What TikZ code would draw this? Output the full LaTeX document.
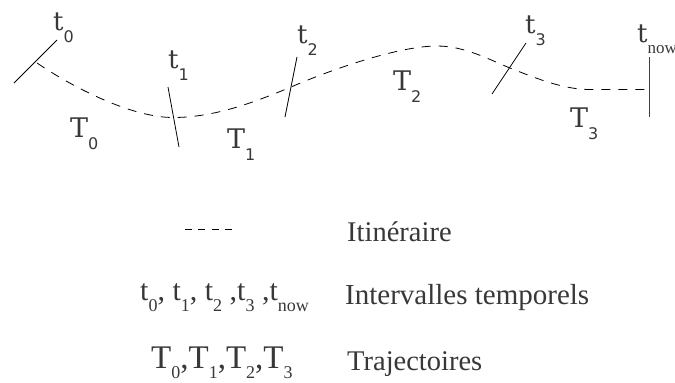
\documentclass[tikz,border=0pt]{standalone}
\usepackage{fontspec}
\setmainfont{Liberation Serif}
\newfontfamily\labfont{DejaVu Serif}
\newfontfamily\subfont{DejaVu Sans}
\newcommand\toplab[3]{{\fontsize{#1}{#1}\labfont #2}\raisebox{-12.5pt}{\fontsize{16}{16}\subfont #3}}
\newcommand\lsub[2]{\raisebox{-#1}{\fontsize{18}{18}\selectfont #2}}
\begin{document}
\begin{tikzpicture}[x=1pt,y=-1pt,
  tickline/.style={line width=0.8pt},
  route/.style={line width=0.8pt, dash pattern=on 9pt off 8pt},
  txt/.style={inner sep=0pt, anchor=base west, text=black!78}]
\useasboundingbox (0,0) rectangle (675,383);
% tick marks
\coordinate (a0) at (14,83);  \coordinate (b0) at (57,40);
\coordinate (a1) at (168,87); \coordinate (b1) at (179,147);
\coordinate (a2) at (297,57); \coordinate (b2) at (285,117);
\coordinate (a3) at (526,43); \coordinate (b3) at (492,94);
\coordinate (a4) at (649.5,57); \coordinate (b4) at (649.5,117);
\draw[tickline] (a0) -- (b0);
\draw[tickline] (a1) -- (b1);
\draw[tickline] (a2) -- (b2);
\draw[tickline] (a3) -- (b3);
\draw[tickline, black!75] (a4) -- (b4);
% route
\coordinate (c0) at (37,63);
\coordinate (c1) at (173,117.5);
\coordinate (c2) at (291,87);
\coordinate (pk) at (437,46);
\coordinate (c3) at (510,68);
\coordinate (c4) at (590,89.5);
\coordinate (c5) at (649.5,89.5);
\draw[route] (c0) .. controls (80,92) and (135,117.5) .. (c1)
  .. controls (215,117.5) and (255,102) .. (c2)
  .. controls (335,68) and (400,46) .. (pk)
  .. controls (465,46) and (490,60) .. (c3)
  .. controls (540,80) and (565,89.5) .. (c4) -- (c5);
% top labels
\node[txt] (lt0) at (53,30) {\toplab{26}{t}{0}};
\node[txt] (lt1) at (168,68) {\toplab{26}{t}{1}};
\node[txt] (lt2) at (297,43) {\toplab{26}{t}{2}};
\node[txt] (lt3) at (525,33) {\toplab{26}{t}{3}};
\node[txt] (ltn) at (637,42) {{\fontsize{26}{26}\labfont t}\raisebox{-11pt}{\fontsize{17}{17}\selectfont now}};
\node[txt] (lT0) at (70,137) {\toplab{27}{T}{0}};
\node[txt] (lT1) at (227,148) {\toplab{27}{T}{1}};
\node[txt] (lT2) at (393,90) {\toplab{27}{T}{2}};
\node[txt] (lT3) at (570,127) {\toplab{27}{T}{3}};
% legend
\coordinate (ld1) at (185,229.5); \coordinate (ld2) at (232,229.5);
\draw[line width=0.8pt, dash pattern=on 7pt off 6.3pt] (ld1) -- (ld2);
\node[txt, font=\fontsize{28.5}{28.5}\selectfont] (it) at (347,241) {Itinéraire};
\node[txt, font=\fontsize{30}{30}\selectfont] (ts) at (140,300)
  {t\lsub{11pt}{0}, t\lsub{11pt}{1}, t\lsub{11pt}{2} ,t\lsub{11pt}{3} ,t\lsub{11pt}{now}};
\node[txt, font=\fontsize{29}{29}\selectfont] (iv) at (345,304) {Intervalles temporels};
\node[txt, font=\fontsize{33}{33}\selectfont] (Ts) at (151,368)
  {T\lsub{10.5pt}{0},T\lsub{10.5pt}{1},T\lsub{10.5pt}{2},T\lsub{10.5pt}{3}};
\node[txt, font=\fontsize{28.5}{28.5}\selectfont] (tr) at (347,370) {Trajectoires};
\end{tikzpicture}
\end{document}
